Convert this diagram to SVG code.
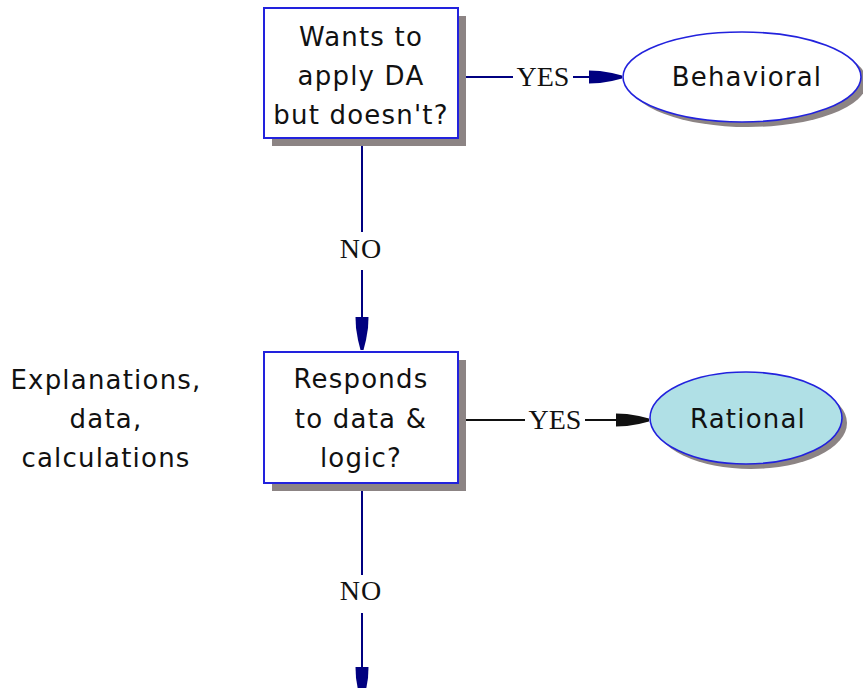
<svg xmlns="http://www.w3.org/2000/svg" width="863" height="688" viewBox="0 0 863 688">
  <style>
    .box { fill: #ffffff; stroke: #2222dd; stroke-width: 2; }
    .oval { stroke: #2222dd; stroke-width: 1.6; }
    .shadow { fill: #8c8484; }
    .node-text { font-family: "DejaVu Sans", "Liberation Sans", sans-serif; font-size: 26px; letter-spacing: 1.2px; fill: #111111; text-anchor: middle; }
    .edge-label { font-family: "Liberation Serif", "Times New Roman", serif; font-size: 28px; fill: #111111; text-anchor: middle; }
    .navy { stroke: #000080; stroke-width: 2; fill: none; }
    .black { stroke: #111111; stroke-width: 2; fill: none; }
  </style>
  <defs>
    <marker id="head-navy" markerUnits="userSpaceOnUse" markerWidth="36" markerHeight="16" viewBox="-34 -8 36 16" refX="0" refY="0" orient="auto">
      <polygon points="-33,-6.5 -22,-6 -10,-4 0,-1.5 0,1.5 -10,4 -22,6 -33,6.5" fill="#000080"/>
    </marker>
    <marker id="head-black" markerUnits="userSpaceOnUse" markerWidth="36" markerHeight="16" viewBox="-34 -8 36 16" refX="0" refY="0" orient="auto">
      <polygon points="-33,-6.5 -22,-6 -10,-4 0,-1.5 0,1.5 -10,4 -22,6 -33,6.5" fill="#111111"/>
    </marker>
  </defs>
  <rect width="863" height="688" fill="#ffffff"/>

  <!-- connectors -->
  <g id="connectors">
    <!-- decision 1 → Behavioral -->
    <line class="navy" x1="458" y1="77" x2="513" y2="77"/>
    <line class="navy" x1="573" y1="77" x2="622" y2="77" marker-end="url(#head-navy)"/>
    <text class="edge-label" x="543" y="86">YES</text>
    <!-- decision 1 → decision 2 -->
    <line class="navy" x1="362" y1="138" x2="362" y2="232"/>
    <line class="navy" x1="362" y1="270" x2="362" y2="350" marker-end="url(#head-navy)"/>
    <text class="edge-label" x="361" y="258" letter-spacing="1">NO</text>
    <!-- decision 2 → Rational -->
    <line class="black" x1="458" y1="420" x2="525" y2="420"/>
    <line class="black" x1="585" y1="420" x2="649" y2="420" marker-end="url(#head-black)"/>
    <text class="edge-label" x="555" y="429">YES</text>
    <!-- decision 2 → next step -->
    <line class="navy" x1="362" y1="484" x2="362" y2="575"/>
    <line class="navy" x1="362" y1="613" x2="362" y2="700" marker-end="url(#head-navy)"/>
    <text class="edge-label" x="361" y="600" letter-spacing="1">NO</text>
  </g>

  <!-- decision: wants to apply DA -->
  <g id="q-apply">
    <rect class="shadow" x="272" y="16" width="194" height="130"/>
    <rect class="box" x="264" y="8" width="194" height="130"/>
    <text class="node-text" x="361" y="46">Wants to</text>
    <text class="node-text" x="361" y="85">apply DA</text>
    <text class="node-text" x="361" y="124">but doesn't?</text>
  </g>

  <!-- outcome: behavioral -->
  <g id="behavioral">
    <ellipse class="shadow" cx="748" cy="82" rx="119" ry="45"/>
    <ellipse class="oval" fill="#ffffff" cx="742" cy="77" rx="119" ry="45"/>
    <text class="node-text" x="747" y="86">Behavioral</text>
  </g>

  <!-- decision: responds to data -->
  <g id="q-data">
    <rect class="shadow" x="272" y="360" width="194" height="131"/>
    <rect class="box" x="264" y="352" width="194" height="131"/>
    <text class="node-text" x="361" y="388">Responds</text>
    <text class="node-text" x="361" y="428">to data &amp;</text>
    <text class="node-text" x="361" y="467">logic?</text>
  </g>

  <!-- outcome: rational -->
  <g id="rational">
    <ellipse class="shadow" cx="751" cy="423" rx="96" ry="46"/>
    <ellipse class="oval" fill="#b0e0e6" cx="746" cy="418" rx="96" ry="46"/>
    <text class="node-text" x="748" y="428">Rational</text>
  </g>

  <!-- side note -->
  <g id="note">
    <text class="node-text" x="106" y="389">Explanations,</text>
    <text class="node-text" x="106" y="428">data,</text>
    <text class="node-text" x="106" y="467">calculations</text>
  </g>
</svg>
